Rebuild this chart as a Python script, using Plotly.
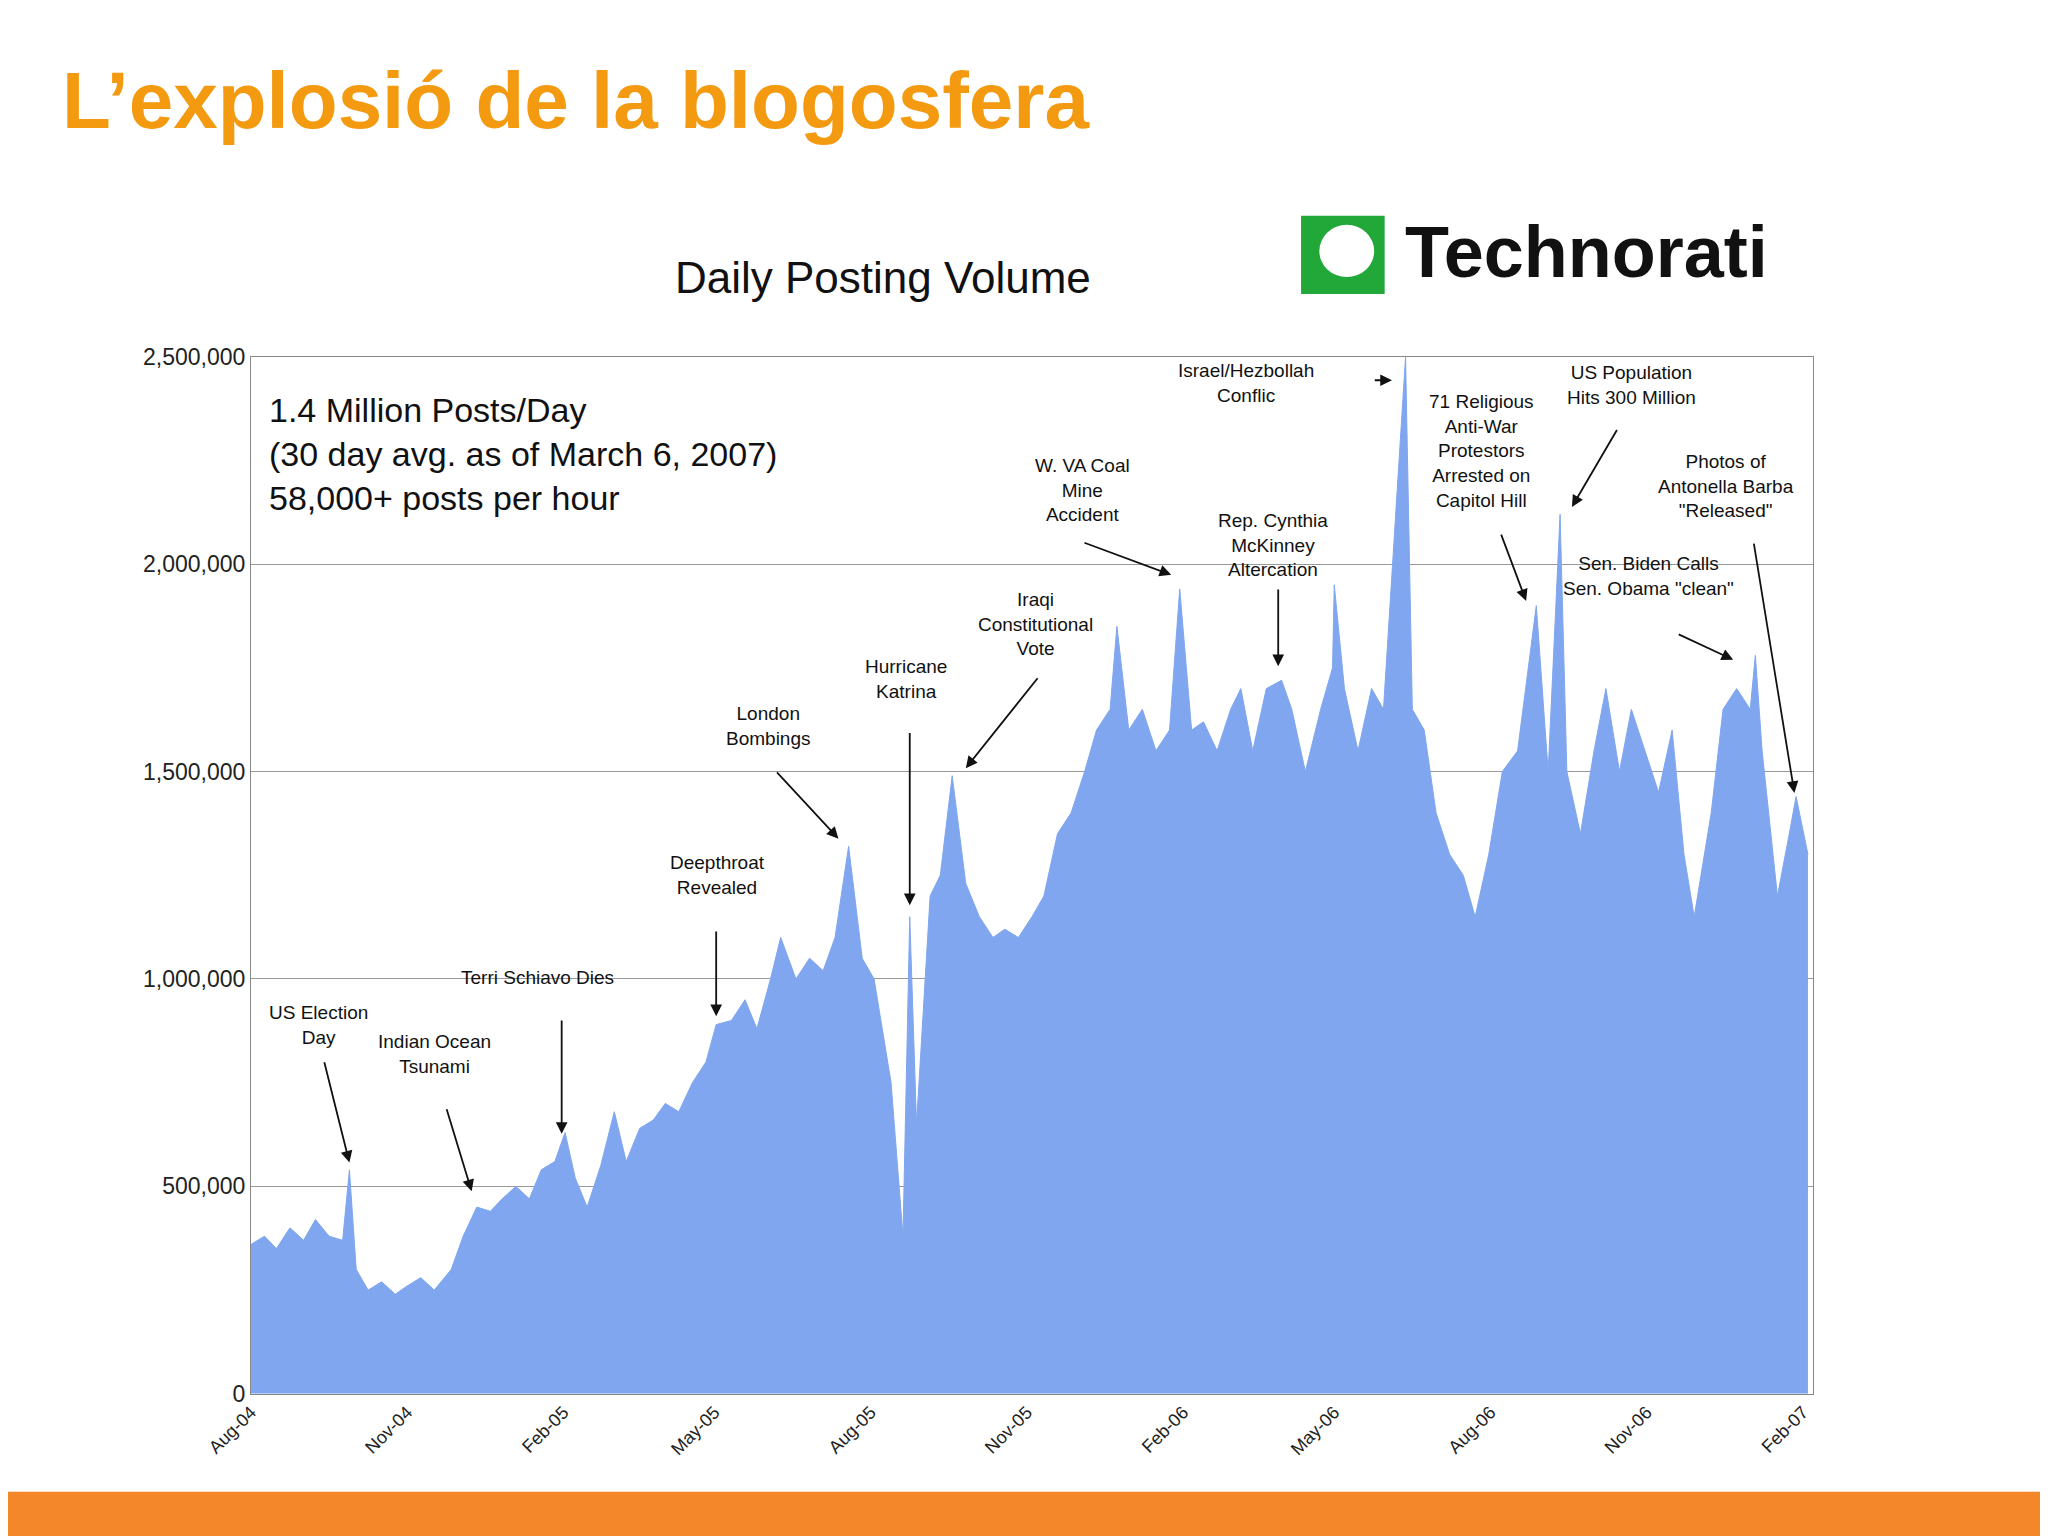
import plotly.graph_objects as go
import pandas as pd

dates = ["2004-08-01","2004-08-09","2004-08-16","2004-08-24","2004-09-01","2004-09-08","2004-09-16","2004-09-24","2004-09-28",
"2004-10-02","2004-10-09","2004-10-17","2004-10-25","2004-11-01","2004-11-09","2004-11-17","2004-11-27",
"2004-12-04","2004-12-12","2004-12-20","2004-12-27","2005-01-04","2005-01-12","2005-01-19","2005-01-27","2005-02-02",
"2005-02-08","2005-02-15","2005-02-23","2005-03-03","2005-03-10","2005-03-18","2005-03-26",
"2005-04-02","2005-04-10","2005-04-18","2005-04-26","2005-05-02",
"2005-05-11","2005-05-19","2005-05-26","2005-06-03","2005-06-09",
"2005-06-18","2005-06-26","2005-07-04","2005-07-11","2005-07-19",
"2005-07-27","2005-08-03","2005-08-13","2005-08-20","2005-08-24","2005-08-28",
"2005-09-05","2005-09-11","2005-09-18",
"2005-09-26","2005-10-04","2005-10-12","2005-10-19","2005-10-27","2005-11-04","2005-11-11",
"2005-11-19","2005-11-27","2005-12-05","2005-12-12","2005-12-20","2005-12-24",
"2005-12-31","2006-01-08","2006-01-16","2006-01-24","2006-01-30",
"2006-02-06","2006-02-13","2006-02-21","2006-03-01","2006-03-07","2006-03-14","2006-03-22",
"2006-03-31","2006-04-06","2006-04-14","2006-04-23","2006-04-30","2006-05-01","2006-05-07",
"2006-05-15","2006-05-23","2006-05-30","2006-06-12","2006-06-16",
"2006-06-23","2006-06-30","2006-07-08","2006-07-16","2006-07-23","2006-07-31",
"2006-08-08","2006-08-17","2006-08-28","2006-09-04","2006-09-11","2006-09-15",
"2006-09-23","2006-10-01","2006-10-08","2006-10-16","2006-10-23","2006-10-31","2006-11-08","2006-11-16","2006-11-23",
"2006-11-29","2006-12-09","2006-12-16","2006-12-24","2007-01-01","2007-01-04","2007-01-08","2007-01-17","2007-01-24","2007-01-28","2007-02-04"]
posts = [360,380,350,400,370,420,380,370,540,
300,250,270,240,260,280,250,300,
380,450,440,470,500,470,540,560,630,
520,450,550,680,560,640,660,
700,680,750,800,890,
900,950,880,1000,1100,
1000,1050,1020,1100,1320,
1050,1000,750,380,1150,650,
1200,1250,1490,
1230,1150,1100,1120,1100,1150,1200,
1350,1400,1500,1600,1650,1850,
1600,1650,1550,1600,1940,
1600,1620,1550,1650,1700,1550,1700,
1720,1650,1500,1650,1750,1950,1700,
1550,1700,1650,2500,1650,
1600,1400,1300,1250,1150,1300,
1500,1550,1900,1500,2120,1500,
1350,1550,1700,1500,1650,1550,1450,1600,1300,
1150,1400,1650,1700,1650,1780,1550,1200,1350,1440,1300]
posts = [p*1000 for p in posts]

W, H = 1568.0, 1176.0
base = pd.Timestamp("2004-08-01")
def dx(x): return (base + pd.Timedelta(days=(x-192)*0.769)).strftime("%Y-%m-%d")
def dy(y): return (1067-y)/317.6*1e6

fig = go.Figure(go.Scatter(x=dates, y=posts, mode="lines", fill="tozeroy",
    line=dict(color="#7FA6EE", width=1), fillcolor="#7FA6EE", hoverinfo="skip"))

notes = [
 ("US Election<br>Day",(245,785),(248,812),(268,890)),
 ("Indian Ocean<br>Tsunami",(333,807),(342,848),(362,912)),
 ("Terri Schiavo Dies",(413,748),(431,780),(431,868)),
 ("Deepthroat<br>Revealed",(550,670),(549,712),(549,778)),
 ("London<br>Bombings",(589,556),(594,590),(642,642)),
 ("Hurricane<br>Katrina",(695,520),(697,560),(697,693)),
 ("Iraqi<br>Constitutional<br>Vote",(794,478),(796,518),(740,588)),
 ("W. VA Coal<br>Mine<br>Accident",(830,375),(830,415),(897,440)),
 ("Israel/Hezbollah<br>Conflic",(955,293),(1052,291),(1066,291)),
 ("Rep. Cynthia<br>McKinney<br>Altercation",(976,417),(979,450),(980,510)),
 ("71 Religious<br>Anti-War<br>Protestors<br>Arrested on<br>Capitol Hill",(1135,345),(1150,408),(1169,460)),
 ("US Population<br>Hits 300 Million",(1250,295),(1240,328),(1205,388)),
 ("Photos of<br>Antonella Barba<br>\"Released\"",(1323,372),(1343,415),(1375,607)),
 ("Sen. Biden Calls<br>Sen. Obama \"clean\"",(1263,441),(1285,485),(1328,505)),
]
ann = []
for t,(tx,ty),(ax,ay),(hx,hy) in notes:
    ann.append(dict(x=dx(tx), y=dy(ty), xref="x", yref="y", text=t, showarrow=False,
        font=dict(size=19, color="#111", family="Liberation Sans"), align="center"))
    ann.append(dict(x=dx(hx), y=dy(hy), xref="x", yref="y", ax=dx(ax), ay=dy(ay), axref="x", ayref="y",
        text="", showarrow=True, arrowhead=2, arrowsize=1.3, arrowwidth=1.8, arrowcolor="#111"))
ann += [
 dict(x=40/W, y=1-71/H, xref="paper", yref="paper", text="<b>L’explosió de la blogosfera</b>", showarrow=False,
      xanchor="left", yanchor="middle", font=dict(size=80, color="#F39A10", family="Liberation Sans")),
 dict(x=670/W, y=1-186/H, xref="paper", yref="paper", text="Daily Posting Volume", showarrow=False,
      font=dict(size=44, color="#111", family="Liberation Sans")),
 dict(x=1068/W, y=1-155/H, xref="paper", yref="paper", text="<b>Technorati</b>", showarrow=False,
      xanchor="left", font=dict(size=72, color="#111", family="Liberation Sans")),
 dict(x=198/W, y=1-292/H, xref="paper", yref="paper", showarrow=False, xanchor="left", yanchor="top", align="left",
      text="1.4 Million Posts/Day<br>(30 day avg. as of March 6, 2007)<br>58,000+ posts per hour",
      font=dict(size=34, color="#111", family="Liberation Sans")),
]

fig.update_layout(width=2048, height=1536, margin=dict(l=0,r=0,t=0,b=0),
    paper_bgcolor="white", plot_bgcolor="white", showlegend=False, annotations=ann,
    shapes=[dict(type="rect", xref="paper", yref="paper", x0=-0.01, x1=1.01, y0=-0.01, y1=40/H,
                 fillcolor="#F4872A", line_width=0, layer="below"),
            dict(type="rect", xref="paper", yref="paper", x0=990/W, x1=1054/W, y0=1-219/H, y1=1-159/H,
                 fillcolor="#22A838", line_width=0),
            dict(type="circle", xref="paper", yref="paper", x0=1004/W, x1=1046/W, y0=1-206/H, y1=1-166/H,
                 fillcolor="white", line_width=0)],
    xaxis=dict(domain=[186/W, 1382/W], type="date", range=["2004-08-01","2007-02-07"], automargin=False,
        tick0="2004-08-01", dtick="M3", tickformat="%b-%y", tickangle=-45, showgrid=False,
        showline=True, linecolor="#888", mirror=True, tickfont=dict(size=18, family="Liberation Sans", color="#222")),
    yaxis=dict(domain=[1-1061/H, 1-267/H], range=[0,2500000], dtick=500000, tickformat=",", automargin=False,
        showgrid=True, gridcolor="#999", showline=True, linecolor="#888", mirror=True,
        tickfont=dict(size=23, family="Liberation Sans", color="#222"), layer="below traces"))
fig.write_html("out.html")
